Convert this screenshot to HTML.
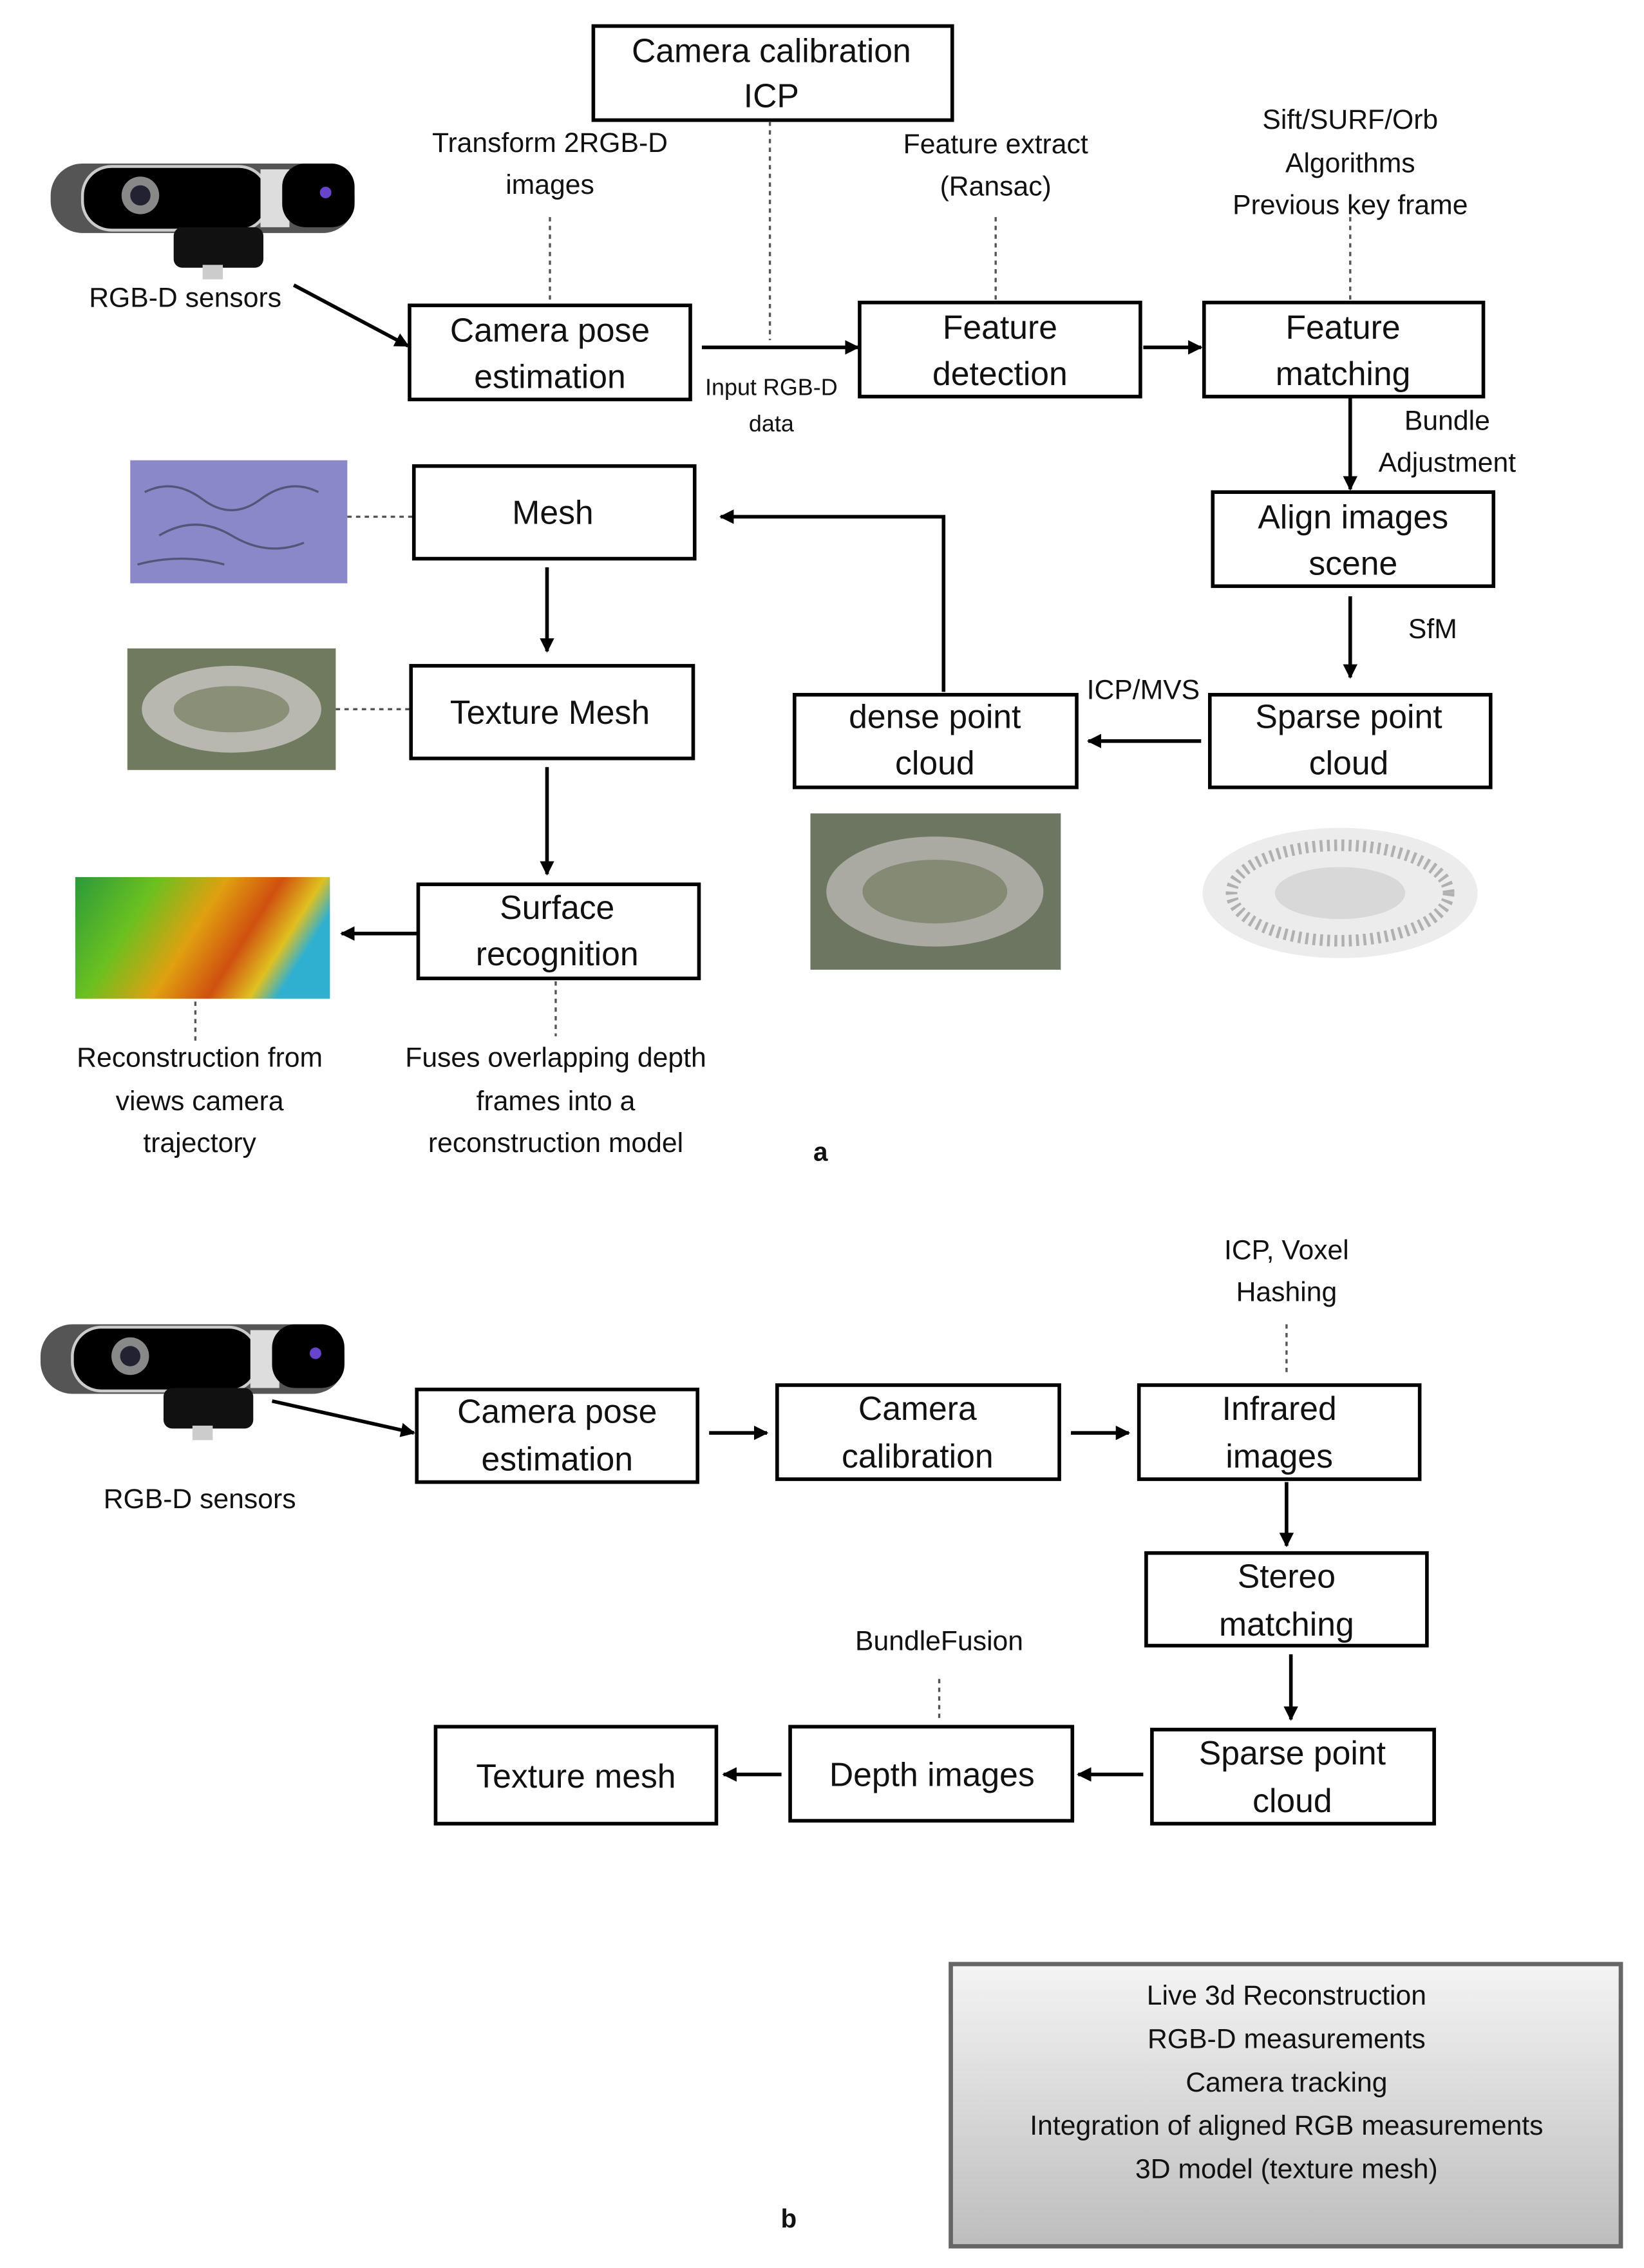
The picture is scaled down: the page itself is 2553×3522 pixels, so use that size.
<!DOCTYPE html>
<html><head><meta charset="utf-8"><style>
html,body{margin:0;padding:0;background:#fff}
svg{display:block}
text{font-family:"Liberation Sans",sans-serif;fill:#111}
.b{font-size:23px}
.s{font-size:19px}
.xs{font-size:16px}
</style></head><body>
<svg width="2553" height="3522" viewBox="0 0 1136 1567" preserveAspectRatio="none" xmlns="http://www.w3.org/2000/svg">
<defs>
<marker id="ar" markerWidth="10" markerHeight="10" refX="9" refY="5" orient="auto" markerUnits="userSpaceOnUse"><path d="M0,0 L10,5 L0,10 z" fill="#000"/></marker>
<linearGradient id="gg" x1="0" y1="0" x2="0" y2="1"><stop offset="0" stop-color="#f4f4f4"/><stop offset="1" stop-color="#bdbdbd"/></linearGradient>
<linearGradient id="heat" x1="0" y1="0" x2="1" y2="0.3"><stop offset="0" stop-color="#2a9a3a"/><stop offset="0.3" stop-color="#6ac020"/><stop offset="0.55" stop-color="#e0a010"/><stop offset="0.75" stop-color="#d05010"/><stop offset="0.9" stop-color="#e0c020"/><stop offset="1" stop-color="#30b0d0"/></linearGradient>
<g id="cam">
<rect x="0" y="0" width="210" height="48" rx="22" fill="#555"/>
<rect x="22" y="2" width="128" height="44" rx="20" fill="#000" stroke="#ccc" stroke-width="2"/>
<rect x="145" y="4" width="20" height="40" fill="#ddd"/>
<rect x="160" y="0" width="50" height="44" rx="16" fill="#000"/>
<circle cx="62" cy="22" r="13" fill="#888"/><circle cx="62" cy="22" r="7" fill="#223"/>
<circle cx="190" cy="20" r="4" fill="#64c"/>
<rect x="85" y="44" width="62" height="28" rx="6" fill="#111"/>
<rect x="105" y="70" width="14" height="10" fill="#ccc"/>
</g>
</defs>

<use href="#cam" x="35" y="113"/>
<text class="s" x="128" y="212" text-anchor="middle">RGB-D sensors</text>
<line x1="203" y1="197" x2="282" y2="239" stroke="#000" stroke-width="2.5" marker-end="url(#ar)"/>

<rect x="410" y="18" width="248" height="65" fill="#fff" stroke="#000" stroke-width="2.5"/>
<text class="b" x="533" y="43" text-anchor="middle">Camera calibration</text>
<text class="b" x="533" y="74" text-anchor="middle">ICP</text>

<text class="s" x="380" y="105" text-anchor="middle">Transform 2RGB-D</text>
<text class="s" x="380" y="134" text-anchor="middle">images</text>
<text class="s" x="688" y="106" text-anchor="middle">Feature extract</text>
<text class="s" x="688" y="135" text-anchor="middle">(Ransac)</text>
<text class="s" x="933" y="89" text-anchor="middle">Sift/SURF/Orb</text>
<text class="s" x="933" y="119" text-anchor="middle">Algorithms</text>
<text class="s" x="933" y="148" text-anchor="middle">Previous key frame</text>

<g stroke="#555" stroke-width="1.5" stroke-dasharray="3,3" fill="none">
<line x1="380" y1="150" x2="380" y2="210"/>
<line x1="532" y1="84" x2="532" y2="235"/>
<line x1="688" y1="150" x2="688" y2="207"/>
<line x1="933" y1="150" x2="933" y2="207"/>
<line x1="240" y1="357" x2="286" y2="357"/>
<line x1="232" y1="490" x2="284" y2="490"/>
<line x1="135" y1="692" x2="135" y2="720"/>
<line x1="384" y1="678" x2="384" y2="716"/>
<line x1="889" y1="915" x2="889" y2="950"/>
<line x1="649" y1="1160" x2="649" y2="1190"/>
</g>

<g fill="#fff" stroke="#000" stroke-width="2.5">
<rect x="283" y="211" width="194" height="65"/>
<rect x="594" y="209" width="194" height="65"/>
<rect x="832" y="209" width="193" height="65"/>
<rect x="838" y="340" width="194" height="65"/>
<rect x="836" y="480" width="194" height="64"/>
<rect x="549" y="480" width="195" height="64"/>
<rect x="286" y="322" width="194" height="64"/>
<rect x="284" y="460" width="195" height="64"/>
<rect x="289" y="611" width="194" height="65"/>
</g>
<text class="b" x="380" y="236" text-anchor="middle">Camera pose</text>
<text class="b" x="380" y="268" text-anchor="middle">estimation</text>
<text class="b" x="691" y="234" text-anchor="middle">Feature</text>
<text class="b" x="691" y="266" text-anchor="middle">detection</text>
<text class="b" x="928" y="234" text-anchor="middle">Feature</text>
<text class="b" x="928" y="266" text-anchor="middle">matching</text>
<text class="b" x="935" y="365" text-anchor="middle">Align images</text>
<text class="b" x="935" y="397" text-anchor="middle">scene</text>
<text class="b" x="932" y="503" text-anchor="middle">Sparse point</text>
<text class="b" x="932" y="535" text-anchor="middle">cloud</text>
<text class="b" x="646" y="503" text-anchor="middle">dense point</text>
<text class="b" x="646" y="535" text-anchor="middle">cloud</text>
<text class="b" x="382" y="362" text-anchor="middle">Mesh</text>
<text class="b" x="380" y="500" text-anchor="middle">Texture Mesh</text>
<text class="b" x="385" y="635" text-anchor="middle">Surface</text>
<text class="b" x="385" y="667" text-anchor="middle">recognition</text>

<g stroke="#000" stroke-width="2.5" fill="none" marker-end="url(#ar)">
<line x1="485" y1="240" x2="593" y2="240"/>
<line x1="790" y1="240" x2="830" y2="240"/>
<line x1="933" y1="275" x2="933" y2="338"/>
<line x1="933" y1="412" x2="933" y2="468"/>
<line x1="830" y1="512" x2="752" y2="512"/>
<polyline points="652,478 652,357 498,357"/>
<line x1="378" y1="392" x2="378" y2="450"/>
<line x1="378" y1="530" x2="378" y2="604"/>
<line x1="289" y1="645" x2="236" y2="645"/>
</g>
<text class="xs" x="533" y="273" text-anchor="middle">Input RGB-D</text>
<text class="xs" x="533" y="298" text-anchor="middle">data</text>
<text class="s" x="1000" y="297" text-anchor="middle">Bundle</text>
<text class="s" x="1000" y="326" text-anchor="middle">Adjustment</text>
<text class="s" x="990" y="441" text-anchor="middle">SfM</text>
<text class="s" x="790" y="483" text-anchor="middle">ICP/MVS</text>

<rect x="90" y="318" width="150" height="85" fill="#8a88c8"/>
<path d="M100,340 q20,-10 40,5 t40,0 t40,-5 M110,370 q25,-15 50,0 t50,5 M95,390 q30,-8 60,0" stroke="#557" fill="none" stroke-width="1.5"/>
<rect x="88" y="448" width="144" height="84" fill="#6f7a5e"/>
<ellipse cx="160" cy="490" rx="62" ry="30" fill="#b8b8b0"/>
<ellipse cx="160" cy="490" rx="40" ry="16" fill="#8a9078"/>
<rect x="560" y="562" width="173" height="108" fill="#6c7660"/>
<ellipse cx="646" cy="616" rx="75" ry="38" fill="#aaaaa2"/>
<ellipse cx="646" cy="616" rx="50" ry="22" fill="#848a74"/>
<ellipse cx="926" cy="617" rx="95" ry="45" fill="#ececec"/>
<ellipse cx="926" cy="617" rx="75" ry="33" fill="none" stroke="#b0b0b0" stroke-width="8" stroke-dasharray="2,3"/>
<ellipse cx="926" cy="617" rx="45" ry="18" fill="#d8d8d8"/>
<rect x="52" y="606" width="176" height="84" fill="url(#heat)"/>

<text class="s" x="138" y="737" text-anchor="middle">Reconstruction from</text>
<text class="s" x="138" y="767" text-anchor="middle">views camera</text>
<text class="s" x="138" y="796" text-anchor="middle">trajectory</text>
<text class="s" x="384" y="737" text-anchor="middle">Fuses overlapping depth</text>
<text class="s" x="384" y="767" text-anchor="middle">frames into a</text>
<text class="s" x="384" y="796" text-anchor="middle">reconstruction model</text>
<text x="567" y="802" text-anchor="middle" font-size="18" font-weight="bold">a</text>

<use href="#cam" x="28" y="915"/>
<text class="s" x="138" y="1042" text-anchor="middle">RGB-D sensors</text>
<line x1="188" y1="968" x2="286" y2="990" stroke="#000" stroke-width="2.5" marker-end="url(#ar)"/>
<text class="s" x="889" y="870" text-anchor="middle">ICP, Voxel</text>
<text class="s" x="889" y="899" text-anchor="middle">Hashing</text>
<text class="s" x="649" y="1140" text-anchor="middle">BundleFusion</text>

<g fill="#fff" stroke="#000" stroke-width="2.5">
<rect x="288" y="960" width="194" height="64"/>
<rect x="537" y="957" width="195" height="65"/>
<rect x="787" y="957" width="194" height="65"/>
<rect x="792" y="1073" width="194" height="64"/>
<rect x="796" y="1195" width="195" height="65"/>
<rect x="546" y="1193" width="195" height="65"/>
<rect x="301" y="1193" width="194" height="67"/>
</g>
<text class="b" x="385" y="983" text-anchor="middle">Camera pose</text>
<text class="b" x="385" y="1016" text-anchor="middle">estimation</text>
<text class="b" x="634" y="981" text-anchor="middle">Camera</text>
<text class="b" x="634" y="1014" text-anchor="middle">calibration</text>
<text class="b" x="884" y="981" text-anchor="middle">Infrared</text>
<text class="b" x="884" y="1014" text-anchor="middle">images</text>
<text class="b" x="889" y="1097" text-anchor="middle">Stereo</text>
<text class="b" x="889" y="1130" text-anchor="middle">matching</text>
<text class="b" x="893" y="1219" text-anchor="middle">Sparse point</text>
<text class="b" x="893" y="1252" text-anchor="middle">cloud</text>
<text class="b" x="644" y="1234" text-anchor="middle">Depth images</text>
<text class="b" x="398" y="1235" text-anchor="middle">Texture mesh</text>

<g stroke="#000" stroke-width="2.5" fill="none" marker-end="url(#ar)">
<line x1="490" y1="990" x2="530" y2="990"/>
<line x1="740" y1="990" x2="780" y2="990"/>
<line x1="889" y1="1024" x2="889" y2="1068"/>
<line x1="892" y1="1143" x2="892" y2="1188"/>
<line x1="790" y1="1226" x2="745" y2="1226"/>
<line x1="540" y1="1226" x2="500" y2="1226"/>
</g>

<rect x="657" y="1357" width="463" height="195" fill="url(#gg)" stroke="#666" stroke-width="3"/>
<text class="s" x="889" y="1385" text-anchor="middle">Live 3d  Reconstruction</text>
<text class="s" x="889" y="1415" text-anchor="middle">RGB-D measurements</text>
<text class="s" x="889" y="1445" text-anchor="middle">Camera tracking</text>
<text class="s" x="889" y="1475" text-anchor="middle">Integration of aligned RGB measurements</text>
<text class="s" x="889" y="1505" text-anchor="middle">3D model (texture mesh)</text>
<text x="545" y="1539" text-anchor="middle" font-size="18" font-weight="bold">b</text>
</svg>
</body></html>
